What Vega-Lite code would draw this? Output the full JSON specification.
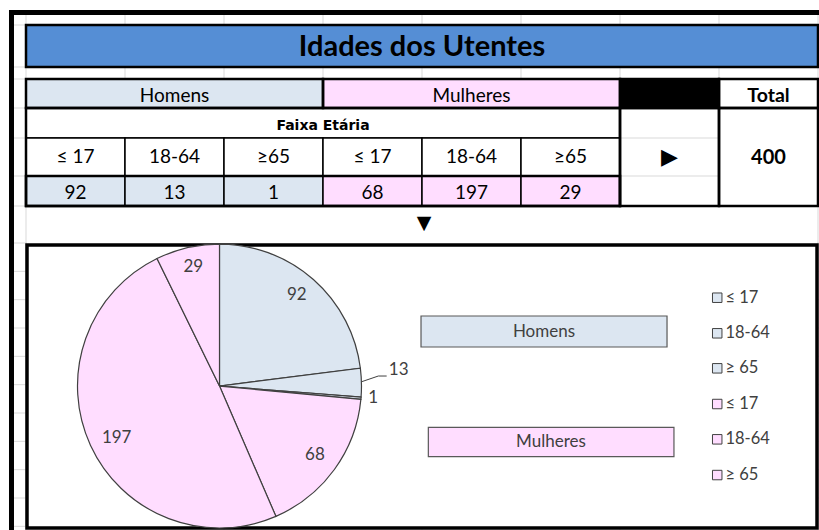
{
  "$schema": "https://vega.github.io/schema/vega-lite/v6.json",
  "width": 819,
  "height": 530,
  "padding": 0,
  "autosize": {"type": "none"},
  "background": "white",
  "config": {"view": {"stroke": null}},
  "encoding": {
    "x": {"field": "c", "type": "quantitative", "axis": null,
          "scale": {"domain": [0, 8], "range": [26, 818], "zero": false, "nice": false}},
    "y": {"field": "r", "type": "quantitative", "axis": null,
          "scale": {"domain": [0,1,2,3,4,5,6,7,8,9,10,11,12,13,14,15,16,17,18,19],
                    "range": [14,25,67,79,108,138,176,206,243,271.33,299.67,328,356.33,384.67,413,441.33,469.67,498,526.33,554.67],
                    "zero": false, "nice": false}}
  },
  "layer": [
    {
      "data": {"values": [
        {"c":0,"r":0,"r2":19},{"c":1,"r":0,"r2":19},{"c":2,"r":0,"r2":19},{"c":3,"r":0,"r2":19},{"c":4,"r":0,"r2":19},
        {"c":5,"r":0,"r2":19},{"c":6,"r":0,"r2":19},{"c":7,"r":0,"r2":19},{"c":8,"r":0,"r2":19}
      ]},
      "mark": {"type": "rule", "color": "#D9D9D9", "strokeWidth": 1},
      "encoding": {"y2": {"field": "r2"}}
    },
    {
      "data": {"values": [
        {"r":0,"c":-0.14,"c2":8.1},{"r":1,"c":-0.14,"c2":8.1},{"r":2,"c":-0.14,"c2":8.1},{"r":3,"c":-0.14,"c2":8.1},
        {"r":4,"c":-0.14,"c2":8.1},{"r":5,"c":-0.14,"c2":8.1},{"r":6,"c":-0.14,"c2":8.1},{"r":7,"c":-0.14,"c2":8.1},
        {"r":8,"c":-0.14,"c2":8.1},{"r":9,"c":-0.14,"c2":8.1},{"r":10,"c":-0.14,"c2":8.1},{"r":11,"c":-0.14,"c2":8.1},
        {"r":12,"c":-0.14,"c2":8.1},{"r":13,"c":-0.14,"c2":8.1},{"r":14,"c":-0.14,"c2":8.1},{"r":15,"c":-0.14,"c2":8.1},
        {"r":16,"c":-0.14,"c2":8.1},{"r":17,"c":-0.14,"c2":8.1},{"r":18,"c":-0.14,"c2":8.1}
      ]},
      "mark": {"type": "rule", "color": "#D9D9D9", "strokeWidth": 1},
      "encoding": {"x2": {"field": "c2"}}
    },
    {
      "data": {"values": [{"c":0.01,"c2":7.99,"r":7,"r2":8.07}]},
      "mark": {"type": "rect", "fill": "white"},
      "encoding": {"x2": {"field": "c2"}, "y2": {"field": "r2"}}
    },
    {
      "data": {"values": [
        {"c":0,"c2":8,"r":1,"r2":2,"grupo":"titulo"},
        {"c":0,"c2":3,"r":3,"r2":4,"grupo":"Homens"},
        {"c":3,"c2":6,"r":3,"r2":4,"grupo":"Mulheres"},
        {"c":6,"c2":7,"r":3,"r2":4,"grupo":"preto"},
        {"c":7,"c2":8,"r":3,"r2":4,"grupo":"branco"},
        {"c":0,"c2":6,"r":4,"r2":5,"grupo":"branco"},
        {"c":0,"c2":1,"r":5,"r2":6,"grupo":"branco"},
        {"c":1,"c2":2,"r":5,"r2":6,"grupo":"branco"},
        {"c":2,"c2":3,"r":5,"r2":6,"grupo":"branco"},
        {"c":3,"c2":4,"r":5,"r2":6,"grupo":"branco"},
        {"c":4,"c2":5,"r":5,"r2":6,"grupo":"branco"},
        {"c":5,"c2":6,"r":5,"r2":6,"grupo":"branco"},
        {"c":0,"c2":1,"r":6,"r2":7,"grupo":"Homens"},
        {"c":1,"c2":2,"r":6,"r2":7,"grupo":"Homens"},
        {"c":2,"c2":3,"r":6,"r2":7,"grupo":"Homens"},
        {"c":3,"c2":4,"r":6,"r2":7,"grupo":"Mulheres"},
        {"c":4,"c2":5,"r":6,"r2":7,"grupo":"Mulheres"},
        {"c":5,"c2":6,"r":6,"r2":7,"grupo":"Mulheres"},
        {"c":6,"c2":7,"r":4,"r2":7,"grupo":"vazio"},
        {"c":7,"c2":8,"r":4,"r2":7,"grupo":"branco"}
      ]},
      "mark": {"type": "rect", "stroke": "black", "strokeWidth": 1.5},
      "encoding": {
        "x2": {"field": "c2"}, "y2": {"field": "r2"},
        "color": {"field": "grupo", "type": "nominal", "legend": null,
                  "scale": {"domain": ["titulo","Homens","Mulheres","preto","branco","vazio"],
                            "range": ["#558ED5","#DCE6F1","#FFDDFF","#000000","#FFFFFF","rgba(255,255,255,0)"]}}
      }
    },
    {
      "data": {"values": [
        {"c":0,"c2":8,"r":1,"r2":2},
        {"c":0,"c2":3,"r":3,"r2":4},
        {"c":3,"c2":6,"r":3,"r2":4},
        {"c":6,"c2":7,"r":3,"r2":4},
        {"c":7,"c2":8,"r":3,"r2":4},
        {"c":0,"c2":6,"r":4,"r2":7},
        {"c":0,"c2":6,"r":6,"r2":7},
        {"c":6,"c2":7,"r":4,"r2":7},
        {"c":7,"c2":8,"r":4,"r2":7}
      ]},
      "mark": {"type": "rect", "fill": null, "stroke": "black", "strokeWidth": 2.5},
      "encoding": {"x2": {"field": "c2"}, "y2": {"field": "r2"}}
    },
    {
      "data": {"values": [{"c":0.01,"c2":7.99,"r":8.07,"r2":18.06}]},
      "mark": {"type": "rect", "fill": "white", "stroke": "black", "strokeWidth": 3.5},
      "encoding": {"x2": {"field": "c2"}, "y2": {"field": "r2"}}
    },
    {
      "data": {"values": [
        {"c":-0.1465,"c2":-0.1465,"r":-0.36,"r2":19},
        {"c":-0.17,"c2":8.1,"r":-0.136,"r2":-0.136}
      ]},
      "mark": {"type": "rule", "color": "black", "strokeWidth": 5},
      "encoding": {"x2": {"field": "c2"}, "y2": {"field": "r2"}}
    },
    {
      "data": {"values": [
        {"sexo":"Homens","idade":"≤ 17","v":92,"k":1,"c":1.9545,"r":13.048},
        {"sexo":"Homens","idade":"18-64","v":13,"k":2,"c":1.9545,"r":13.048},
        {"sexo":"Homens","idade":"≥ 65","v":1,"k":3,"c":1.9545,"r":13.048},
        {"sexo":"Mulheres","idade":"≤ 17","v":68,"k":4,"c":1.9545,"r":13.048},
        {"sexo":"Mulheres","idade":"18-64","v":197,"k":5,"c":1.9545,"r":13.048},
        {"sexo":"Mulheres","idade":"≥ 65","v":29,"k":6,"c":1.9545,"r":13.048}
      ]},
      "mark": {"type": "arc", "radius": 142, "stroke": "#404040", "strokeWidth": 1.2},
      "encoding": {
        "theta": {"field": "v", "type": "quantitative", "stack": true},
        "order": {"field": "k", "type": "quantitative"},
        "color": {"field": "sexo", "type": "nominal", "legend": null,
                  "scale": {"domain": ["titulo","Homens","Mulheres","preto","branco","vazio"],
                            "range": ["#558ED5","#DCE6F1","#FFDDFF","#000000","#FFFFFF","rgba(255,255,255,0)"]}}
      }
    },
    {
      "data": {"values": [{"c":3.390,"r":12.896,"k":1},{"c":3.559,"r":12.695,"k":2},{"c":3.643,"r":12.695,"k":3}]},
      "mark": {"type": "line", "color": "#404040", "strokeWidth": 1},
      "encoding": {"order": {"field": "k", "type": "quantitative"}}
    },
    {
      "data": {"values": [
        {"sexo":"Homens","c":3.990,"c2":6.475,"r":10.577,"r2":11.671},
        {"sexo":"Mulheres","c":4.064,"c2":6.545,"r":14.505,"r2":15.543}
      ]},
      "mark": {"type": "rect", "stroke": "#595959", "strokeWidth": 1.2},
      "encoding": {
        "x2": {"field": "c2"}, "y2": {"field": "r2"},
        "color": {"field": "sexo", "type": "nominal", "legend": null,
                  "scale": {"domain": ["titulo","Homens","Mulheres","preto","branco","vazio"],
                            "range": ["#558ED5","#DCE6F1","#FFDDFF","#000000","#FFFFFF","rgba(255,255,255,0)"]}}
      }
    },
    {
      "data": {"values": [
        {"sexo":"Homens","idade":"≤ 17","c":6.982,"r":9.931},
        {"sexo":"Homens","idade":"18-64","c":6.982,"r":11.187},
        {"sexo":"Homens","idade":"≥ 65","c":6.982,"r":12.423},
        {"sexo":"Mulheres","idade":"≤ 17","c":6.982,"r":13.683},
        {"sexo":"Mulheres","idade":"18-64","c":6.982,"r":14.929},
        {"sexo":"Mulheres","idade":"≥ 65","c":6.982,"r":16.19}
      ]},
      "mark": {"type": "square", "size": 90, "filled": true, "stroke": "#404040", "strokeWidth": 1, "opacity": 1},
      "encoding": {
        "color": {"field": "sexo", "type": "nominal", "legend": null,
                  "scale": {"domain": ["titulo","Homens","Mulheres","preto","branco","vazio"],
                            "range": ["#558ED5","#DCE6F1","#FFDDFF","#000000","#FFFFFF","rgba(255,255,255,0)"]}}
      }
    },
    {
      "data": {"values": [
        {"t":"≤ 17","c":7.065,"r":9.931},
        {"t":"18-64","c":7.065,"r":11.187},
        {"t":"≥ 65","c":7.065,"r":12.423},
        {"t":"≤ 17","c":7.065,"r":13.683},
        {"t":"18-64","c":7.065,"r":14.929},
        {"t":"≥ 65","c":7.065,"r":16.19}
      ]},
      "mark": {"type": "text", "font": "Lato", "fontSize": 16.5, "align": "left", "baseline": "middle", "color": "#404040"},
      "encoding": {"text": {"field": "t"}}
    },
    {
      "data": {"values": [
        {"t":"92","c":2.735,"r":9.835},
        {"t":"13","c":3.764,"r":12.482},
        {"t":"1","c":3.508,"r":13.483},
        {"t":"68","c":2.919,"r":15.483},
        {"t":"197","c":0.916,"r":14.873},
        {"t":"29","c":1.690,"r":8.837},
        {"t":"Homens","c":5.232,"r":11.13},
        {"t":"Mulheres","c":5.303,"r":15.01}
      ]},
      "mark": {"type": "text", "font": "Lato", "fontSize": 17, "align": "center", "baseline": "middle", "color": "#404040"},
      "encoding": {"text": {"field": "t"}}
    },
    {
      "data": {"values": [{"t":"Idades dos Utentes","c":4,"r":1.524}]},
      "mark": {"type": "text", "font": "Lato", "fontSize": 29, "fontWeight": "bold", "align": "center", "baseline": "middle", "color": "black"},
      "encoding": {"text": {"field": "t"}}
    },
    {
      "data": {"values": [
        {"t":"Homens","c":1.5,"r":3.58},
        {"t":"Mulheres","c":4.5,"r":3.58},
        {"t":"≤ 17","c":0.5,"r":5.5},
        {"t":"18-64","c":1.5,"r":5.5},
        {"t":"≥65","c":2.5,"r":5.5},
        {"t":"≤ 17","c":3.5,"r":5.5},
        {"t":"18-64","c":4.5,"r":5.5},
        {"t":"≥65","c":5.5,"r":5.5},
        {"t":"92","c":0.5,"r":6.55},
        {"t":"13","c":1.5,"r":6.55},
        {"t":"1","c":2.5,"r":6.55},
        {"t":"68","c":3.5,"r":6.55},
        {"t":"197","c":4.5,"r":6.55},
        {"t":"29","c":5.5,"r":6.55}
      ]},
      "mark": {"type": "text", "font": "Lato", "fontSize": 19, "align": "center", "baseline": "middle", "color": "black"},
      "encoding": {"text": {"field": "t"}}
    },
    {
      "data": {"values": [{"t":"Total","c":7.5,"r":3.58,"s":19.5},{"t":"400","c":7.5,"r":5.52,"s":20}]},
      "mark": {"type": "text", "font": "Lato", "fontWeight": "bold", "align": "center", "baseline": "middle", "color": "black"},
      "encoding": {"text": {"field": "t"}, "size": {"field": "s", "type": "quantitative", "scale": null, "legend": null}}
    },
    {
      "data": {"values": [{"t":"Faixa Etária","c":3,"r":4.6}]},
      "mark": {"type": "text", "font": "DejaVu Sans", "fontSize": 14, "fontWeight": "bold", "align": "center", "baseline": "middle", "color": "black"},
      "encoding": {"text": {"field": "t"}}
    },
    {
      "data": {"values": [{"t":"▶","c":6.5,"r":5.5,"s":22},{"t":"▼","c":4.02,"r":7.45,"s":19}]},
      "mark": {"type": "text", "font": "DejaVu Sans", "align": "center", "baseline": "middle", "color": "black"},
      "encoding": {"text": {"field": "t"}, "size": {"field": "s", "type": "quantitative", "scale": null, "legend": null}}
    }
  ]
}
